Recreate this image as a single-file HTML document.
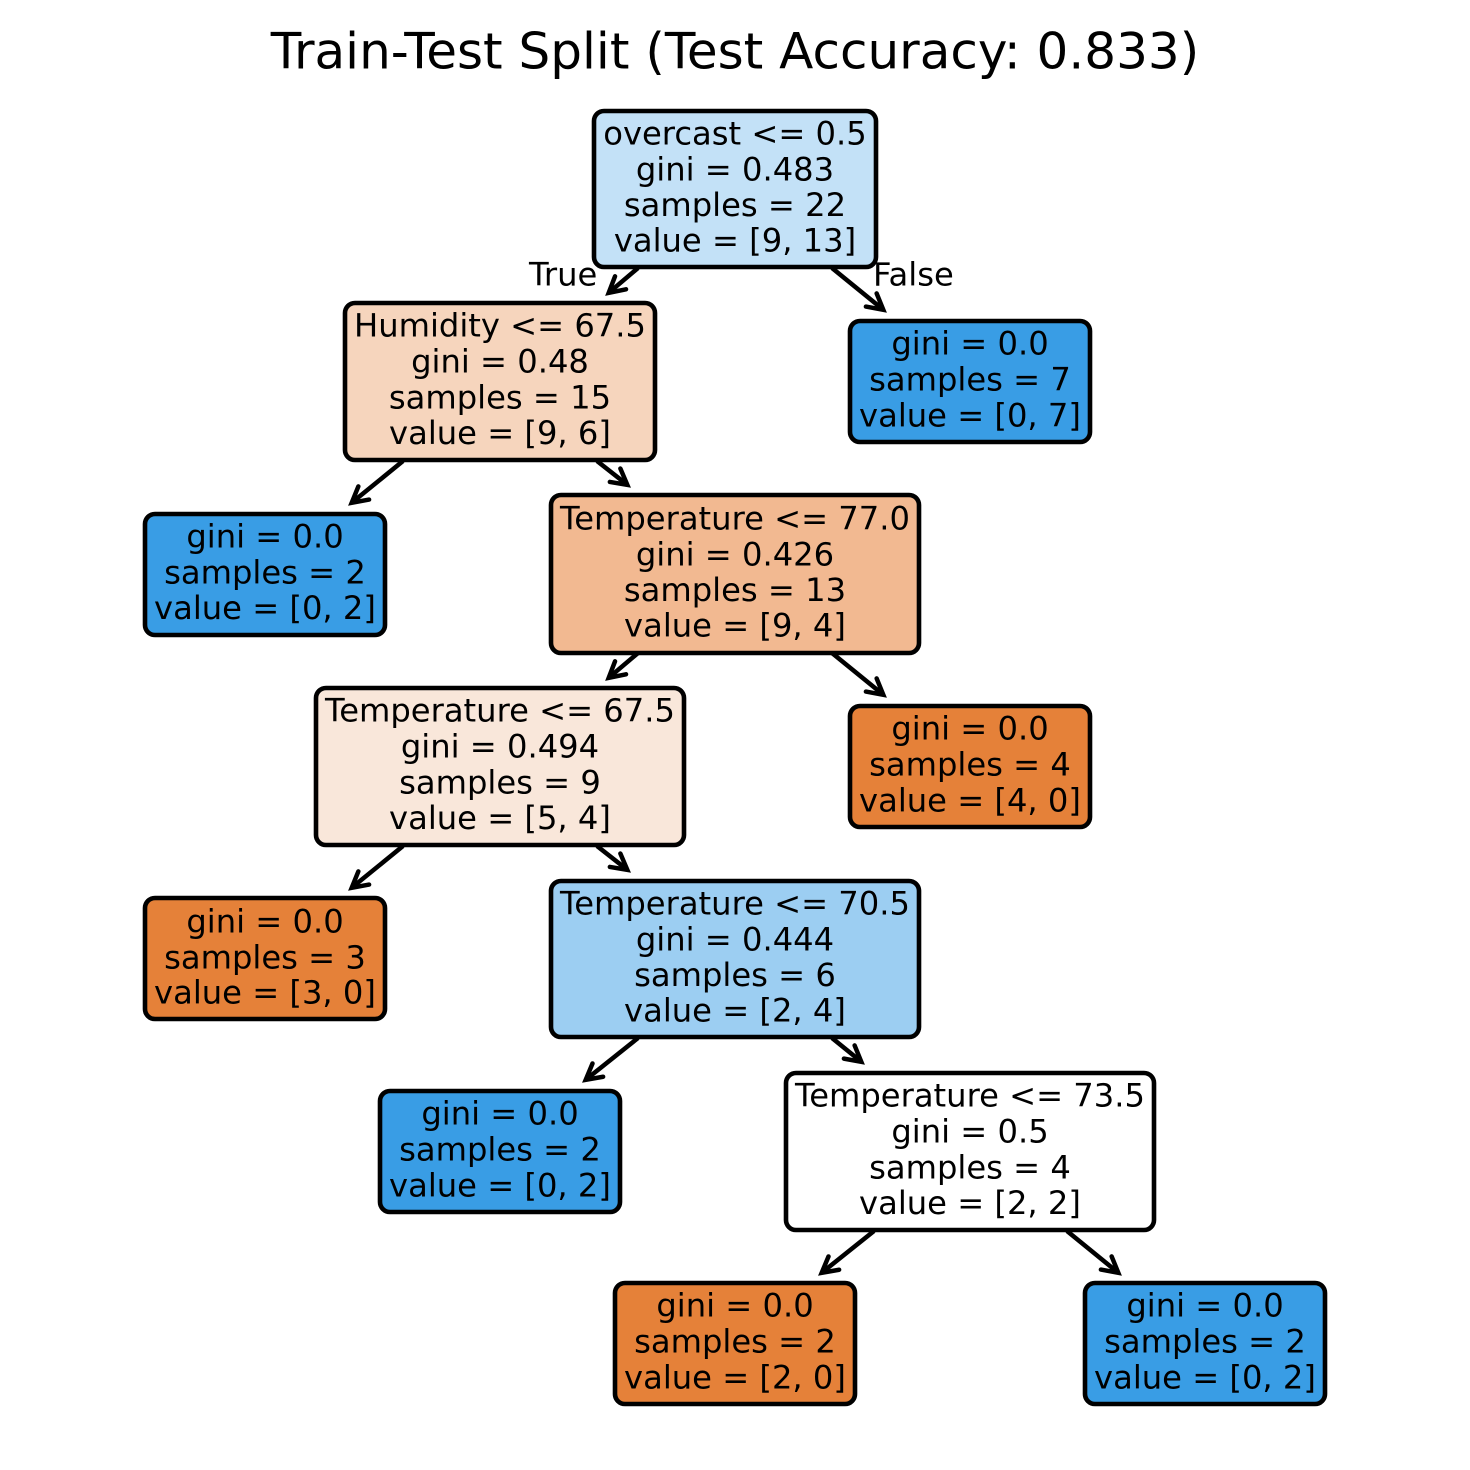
<!DOCTYPE html>
<html>
<head>
<meta charset="utf-8">
<style>
html,body{margin:0;padding:0;background:#fff}
svg{display:block}
text{font-family:"DejaVu Sans",sans-serif;fill:#000}
.n{font-size:32.2px;text-anchor:middle;transform:translateY(0.4px)}
rect{stroke:#000;stroke-width:4.6px}
.a{stroke:#000;stroke-width:4.5px;fill:none;marker-end:url(#h)}
</style>
</head>
<body>
<svg width="1470" height="1470" viewBox="0 0 1470 1470" xmlns="http://www.w3.org/2000/svg">
<defs>
<marker id="h" markerUnits="userSpaceOnUse" markerWidth="40" markerHeight="40" refX="20" refY="20" orient="auto" overflow="visible">
<path d="M4.5 11.5 L20 20 L4.5 28.5" fill="none" stroke="#000" stroke-width="4.5" stroke-linecap="round" stroke-miterlimit="8"/>
</marker>
</defs>
<rect width="1470" height="1470" style="fill:#fff;stroke:none"/>
<text x="735" y="68.300" font-size="50" text-anchor="middle">Train-Test Split (Test Accuracy: 0.833)</text>

<line class="a" x1="638" y1="268" x2="608.7" y2="292.8"/>
<line class="a" x1="832" y1="268" x2="883.3" y2="309.8"/>
<line class="a" x1="403" y1="461" x2="351.7" y2="502.8"/>
<line class="a" x1="597" y1="461" x2="627.3" y2="484.8"/>
<line class="a" x1="638" y1="653" x2="608.7" y2="677.8"/>
<line class="a" x1="832" y1="653" x2="883.3" y2="694.8"/>
<line class="a" x1="403" y1="846" x2="351.7" y2="887.8"/>
<line class="a" x1="597" y1="846" x2="627.3" y2="869.8"/>
<line class="a" x1="638" y1="1038" x2="585.7" y2="1079.8"/>
<line class="a" x1="832" y1="1038" x2="861.3" y2="1061.8"/>
<line class="a" x1="874" y1="1231" x2="821.7" y2="1272.8"/>
<line class="a" x1="1067" y1="1231" x2="1118.3" y2="1272.8"/>

<text x="529" y="285.300" font-size="32.2">True</text>
<text x="873" y="285.300" font-size="32.2">False</text>

<rect x="594" y="111" width="282" height="156" rx="10" style="fill:#c3e1f7"/>
<text class="n" x="735" y="144">overcast &lt;= 0.5</text>
<text class="n" x="735" y="180">gini = 0.483</text>
<text class="n" x="735" y="215.500">samples = 22</text>
<text class="n" x="735" y="251">value = [9, 13]</text>

<rect x="345" y="303" width="310" height="157" rx="10" style="fill:#f6d5bd"/>
<text class="n" x="500" y="336">Humidity &lt;= 67.5</text>
<text class="n" x="500" y="372">gini = 0.48</text>
<text class="n" x="500" y="408">samples = 15</text>
<text class="n" x="500" y="443.500">value = [9, 6]</text>

<rect x="850" y="321" width="240" height="121" rx="10" style="fill:#399de5"/>
<text class="n" x="970" y="354">gini = 0.0</text>
<text class="n" x="970" y="390">samples = 7</text>
<text class="n" x="970" y="426">value = [0, 7]</text>

<rect x="145" y="514" width="240" height="121" rx="10" style="fill:#399de5"/>
<text class="n" x="265" y="547">gini = 0.0</text>
<text class="n" x="265" y="583">samples = 2</text>
<text class="n" x="265" y="618.500">value = [0, 2]</text>

<rect x="551" y="495" width="368" height="158" rx="10" style="fill:#f2b991"/>
<text class="n" x="735" y="529">Temperature &lt;= 77.0</text>
<text class="n" x="735" y="565">gini = 0.426</text>
<text class="n" x="735" y="600.500">samples = 13</text>
<text class="n" x="735" y="636">value = [9, 4]</text>

<rect x="316" y="688" width="368" height="157" rx="10" style="fill:#f9e7da"/>
<text class="n" x="500" y="721">Temperature &lt;= 67.5</text>
<text class="n" x="500" y="757">gini = 0.494</text>
<text class="n" x="500" y="793">samples = 9</text>
<text class="n" x="500" y="828.500">value = [5, 4]</text>

<rect x="850" y="706" width="240" height="121" rx="10" style="fill:#e58139"/>
<text class="n" x="970" y="739">gini = 0.0</text>
<text class="n" x="970" y="775">samples = 4</text>
<text class="n" x="970" y="811">value = [4, 0]</text>

<rect x="145" y="898" width="240" height="121" rx="10" style="fill:#e58139"/>
<text class="n" x="265" y="932">gini = 0.0</text>
<text class="n" x="265" y="968">samples = 3</text>
<text class="n" x="265" y="1003">value = [3, 0]</text>

<rect x="551" y="881" width="368" height="156" rx="10" style="fill:#9ccef2"/>
<text class="n" x="735" y="914">Temperature &lt;= 70.5</text>
<text class="n" x="735" y="950">gini = 0.444</text>
<text class="n" x="735" y="985.500">samples = 6</text>
<text class="n" x="735" y="1021">value = [2, 4]</text>

<rect x="380" y="1091" width="240" height="121" rx="10" style="fill:#399de5"/>
<text class="n" x="500" y="1124">gini = 0.0</text>
<text class="n" x="500" y="1160">samples = 2</text>
<text class="n" x="500" y="1196">value = [0, 2]</text>

<rect x="786" y="1073" width="368" height="157" rx="10" style="fill:#ffffff"/>
<text class="n" x="970" y="1106">Temperature &lt;= 73.5</text>
<text class="n" x="970" y="1142">gini = 0.5</text>
<text class="n" x="970" y="1178">samples = 4</text>
<text class="n" x="970" y="1213.500">value = [2, 2]</text>

<rect x="615" y="1283" width="240" height="121" rx="10" style="fill:#e58139"/>
<text class="n" x="735" y="1316">gini = 0.0</text>
<text class="n" x="735" y="1352">samples = 2</text>
<text class="n" x="735" y="1388">value = [2, 0]</text>

<rect x="1085" y="1283" width="240" height="121" rx="10" style="fill:#399de5"/>
<text class="n" x="1205" y="1316">gini = 0.0</text>
<text class="n" x="1205" y="1352">samples = 2</text>
<text class="n" x="1205" y="1388">value = [0, 2]</text>
</svg>
</body>
</html>
